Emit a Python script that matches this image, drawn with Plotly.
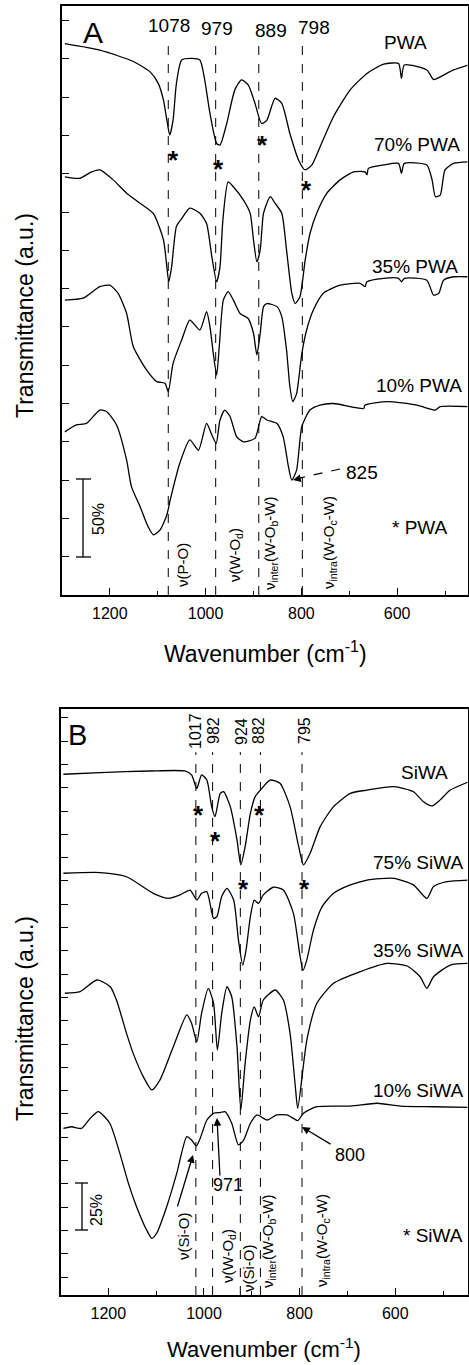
import plotly.graph_objects as go

W, H = 469, 1365
def px(x): return x / W
def py(y): return 1 - y / H

FONT = "Liberation Sans, Arial, sans-serif"

# ---------------- Panel A data (wavenumber, offset transmittance a.u.) -------------
wn_pwa = [1294,1221,1151,1116,1099,1088,1081,1075,1068,1061,1050,1029,1012,1003,991,977,970,956,939,925,
          911,897,883,872,855,841,824,806,792,778,761,733,698,663,628,597,591,585,538,524,510,482,451]
t_pwa = [14.40,14.23,13.93,13.66,13.36,12.92,12.4,12.01,12.4,13.36,13.97,14.01,13.97,13.53,12.58,11.79,11.75,12.31,13.19,13.45,
         13.32,12.84,12.31,12.4,12.97,12.84,12.05,11.36,11.1,11.23,11.70,12.49,13.19,13.62,13.86,13.88,13.49,13.84,13.71,13.46,13.53,13.71,13.84]

wn_pwa70 = [1294,1263,1238,1221,1193,1165,1137,1109,1088,1081,1077,1071,1061,1050,1033,1012,998,987,977,970,
            964,953,942,921,907,900,893,886,879,865,855,841,831,820,813,803,792,782,768,747,
            719,691,667,663,660,628,597,591,585,538,527,520,510,500,482,451]
t_pwa70 = [10.92,10.88,11.05,11.10,10.84,10.49,10.23,9.96,9.27,8.57,8.18,8.57,9.62,9.83,10.10,9.97,9.70,8.83,8.18,8.57,
           9.79,10.79,10.66,10.31,9.97,9.27,8.70,9.01,9.97,10.40,10.23,9.97,9.01,7.88,7.61,7.79,8.75,9.44,9.97,10.49,
           10.84,11.05,11.05,10.97,11.14,11.23,11.27,11.01,11.27,11.23,10.84,10.40,10.44,11.10,11.27,11.31]

wn_pwa35 = [1294,1256,1221,1200,1183,1165,1151,1123,1102,1085,1078,1068,1050,1033,1012,998,991,984,977,971,
            963,953,942,928,911,900,893,886,879,872,851,841,831,824,818,810,799,789,775,754,
            719,677,667,663,628,597,591,585,538,524,513,503,482,451]
t_pwa35 = [7.70,7.75,8.05,8.09,7.88,7.35,6.48,5.87,5.57,5.53,5.31,6.05,6.66,7.18,6.92,7.40,7.01,6.31,5.74,6.57,
           7.70,7.92,7.70,7.35,7.22,6.83,6.27,6.83,7.53,7.61,7.53,7.27,6.40,5.44,5.05,5.26,6.31,6.92,7.44,7.88,
           8.09,8.14,8.05,8.18,8.27,8.27,8.18,8.27,8.22,7.83,7.88,8.22,8.31,8.31]

wn_pwa10 = [1294,1270,1249,1221,1207,1186,1165,1155,1137,1120,1109,1095,1081,1074,1054,1033,1015,998,987,978,
            970,960,949,935,921,897,883,872,851,838,827,820,810,799,782,761,733,670,667,621,559,520,510,451]
t_pwa10 = [4.26,4.44,4.48,4.83,4.79,4.44,3.52,2.83,2.31,1.78,1.57,1.70,2.09,2.48,3.44,4.05,3.78,4.48,4.18,3.96,
           4.57,4.83,4.66,4.13,4.00,4.09,4.66,4.57,4.48,4.13,3.35,3.00,3.26,4.40,4.83,4.96,5.00,4.87,4.96,5.05,4.96,4.83,4.92,4.92]

peaks_a = [1078, 979, 889, 798]
peak_labels_a = ["1078", "979", "889", "798"]
star_a_wn = [1068, 973, 881, 789]
star_a_t = [11.54, 11.31, 11.93, 10.76]

# ---------------- Panel B data ----------------
wn_siwa = [1294,1217,1113,1040,1026,1015,1005,994,984,977,966,959,945,931,923,914,903,893,882,862,
           841,820,802,792,778,757,729,694,659,603,562,541,523,506,485,446]
t_siwa = [22.35,22.42,22.49,22.49,22.32,21.74,22.32,22.10,20.96,20.53,21.53,21.60,20.96,19.53,18.46,19.24,20.67,21.39,21.67,22.10,
          21.96,20.96,19.24,18.46,18.96,20.10,20.96,21.53,21.67,21.82,21.60,21.17,20.99,21.25,21.67,22.03]

wn_siwa75 = [1294,1217,1162,1106,1074,1050,1029,1015,1005,994,980,973,963,952,938,928,919,912,903,895,
             886,876,855,834,813,800,793,785,771,753,729,694,659,603,562,534,520,492,446]
t_siwa75 = [18.10,18.13,17.95,17.24,17.02,17.17,17.38,16.95,17.24,17.31,16.16,16.24,17.10,17.45,16.95,15.24,14.16,14.81,16.24,16.95,
            16.81,17.17,17.50,17.38,16.38,14.66,13.92,14.38,15.67,16.67,17.24,17.60,17.81,17.88,17.60,17.02,17.53,17.74,17.81]

wn_siwa35 = [1291,1259,1224,1196,1183,1162,1148,1127,1109,1092,1064,1036,1026,1015,1005,991,980,972,963,952,
             942,931,923,914,903,895,886,876,851,834,820,809,804,785,764,729,673,617,575,548,534,520,485,446]
t_siwa35 = [12.95,13.02,13.52,13.23,12.66,11.23,10.37,9.37,8.80,9.23,10.66,12.02,11.66,10.87,12.09,13.16,12.52,10.51,12.09,13.23,
            12.80,10.66,7.94,9.94,11.80,12.37,11.94,12.66,13.09,12.66,11.23,8.94,8.01,10.94,12.52,13.38,13.88,14.23,14.12,13.66,
            13.16,13.66,14.16,14.23]

wn_siwa10 = [1294,1277,1256,1238,1221,1197,1176,1158,1141,1120,1109,1099,1078,1057,1036,1026,1016,1008,994,980,
             966,956,942,928,917,903,889,868,848,827,813,804,792,764,694,638,589,520,446]
t_siwa10 = [7.15,7.22,7.15,7.58,7.87,7.37,6.08,4.79,3.79,2.79,2.43,2.65,3.79,5.22,6.80,6.65,6.40,6.72,7.51,7.80,
            7.83,7.87,7.37,6.44,6.65,7.37,7.73,7.51,7.73,7.73,7.58,7.48,7.80,8.08,8.11,8.23,8.11,8.08,8.05]

peaks_b = [1017, 982, 924, 882, 795]
peak_labels_b = ["1017", "982", "924", "882", "795"]
star_b_wn = [1012, 975, 883, 917, 790]
star_b_t = [20.90, 19.79, 20.90, 17.73, 17.73]

# ---------------- Figure ----------------
fig = go.Figure()
line = dict(color="black", width=1.3, shape="spline", smoothing=0.6)
for wn, t in [(wn_pwa, t_pwa), (wn_pwa70, t_pwa70), (wn_pwa35, t_pwa35), (wn_pwa10, t_pwa10)]:
    fig.add_trace(go.Scatter(x=wn, y=t, mode="lines", line=line, xaxis="x", yaxis="y",
                             showlegend=False, hoverinfo="skip"))
for wn, t in [(wn_siwa, t_siwa), (wn_siwa75, t_siwa75), (wn_siwa35, t_siwa35), (wn_siwa10, t_siwa10)]:
    fig.add_trace(go.Scatter(x=wn, y=t, mode="lines", line=line, xaxis="x2", yaxis="y2",
                             showlegend=False, hoverinfo="skip"))

shapes = []
for p in peaks_a:
    shapes.append(dict(type="line", xref="x", yref="y", x0=p, x1=p, y0=0, y1=14.5,
                       line=dict(color="black", width=1, dash="dash")))
for p in peaks_b:
    shapes.append(dict(type="line", xref="x2", yref="y2", x0=p, x1=p, y0=0, y1=23.3,
                       line=dict(color="black", width=1, dash="dash")))

def pline(x0, y0, x1, y1, dash="solid", w=1.3):
    return dict(type="line", xref="paper", yref="paper", x0=px(x0), y0=py(y0), x1=px(x1), y1=py(y1),
                line=dict(color="black", width=w, dash=dash))

# scale bars
shapes += [pline(83, 479, 83, 557), pline(76, 479, 91, 479), pline(76, 557, 91, 557)]
shapes += [pline(82, 1183, 82, 1230), pline(75, 1183, 88, 1183), pline(75, 1230, 88, 1230)]
# dashed leader for 825
shapes.append(pline(340, 469, 300, 478, dash="dash", w=1.2))

ann = []
def T(text, x, y, size, angle=0, xanchor="center", yanchor="middle"):
    ann.append(dict(text=text, x=px(x), y=py(y), xref="paper", yref="paper", showarrow=False,
                    textangle=angle, xanchor=xanchor, yanchor=yanchor,
                    font=dict(family=FONT, size=size, color="black")))

# Panel A texts
T("A", 93, 32, 30)
for lbl, (x, y) in zip(peak_labels_a, [(169, 25), (217, 28), (271, 30), (314, 27)]):
    T(lbl, x, y, 19)
T("PWA", 405, 42, 19)
T("70% PWA", 417, 145, 19)
T("35% PWA", 415, 267, 19)
T("10% PWA", 419, 385, 19)
T("* PWA", 420, 528, 19)
T("825", 362, 472, 19)
T("ν(P-O)", 182, 565, 15, -90)
T("ν(W-O<sub>d</sub>)", 235, 555, 15, -90)
T("ν<sub>inter</sub>(W-O<sub>b</sub>-W)", 270, 544, 15, -90)
T("ν<sub>intra</sub>(W-O<sub>c</sub>-W)", 330, 543, 15, -90)
T("50%", 98, 519, 16, -90)
T("Wavenumber (cm<sup>-1</sup>)", 265, 652, 23)
T("Transmittance (a.u.)", 25, 316, 23, -90)

# Panel B texts
T("B", 77, 735, 29)
for lbl, x in zip(peak_labels_b, [195, 213, 241, 258, 304]):
    T(lbl, x, 731, 16, -90)
T("SiWA", 424, 772, 19)
T("75% SiWA", 465, 862, 19, xanchor="right")
T("35% SiWA", 465, 950, 19, xanchor="right")
T("10% SiWA", 465, 1090, 19, xanchor="right")
T("* SiWA", 465, 1235, 19, xanchor="right")
T("971", 228, 1185, 18)
T("800", 350, 1155, 18)
T("ν(Si-O)", 183, 1236, 15, -90)
T("ν(W-O<sub>d</sub>)", 228, 1256, 15, -90)
T("ν(Si-O)", 248, 1268, 15, -90)
T("ν<sub>inter</sub>(W-O<sub>b</sub>-W)", 268, 1242, 15, -90)
T("ν<sub>intra</sub>(W-O<sub>c</sub>-W)", 322, 1241, 15, -90)
T("25%", 96, 1210, 16, -90)
T("Wavenumber (cm<sup>-1</sup>)", 264, 1348, 22)
T("Transmittance (a.u.)", 25, 1019, 23, -90)

# asterisks on data
for w, t in zip(star_a_wn, star_a_t):
    ann.append(dict(text="<b>*</b>", x=w, y=t, xref="x", yref="y", showarrow=False, yshift=-7,
                    font=dict(family=FONT, size=26, color="black")))
for w, t in zip(star_b_wn, star_b_t):
    ann.append(dict(text="<b>*</b>", x=w, y=t, xref="x2", yref="y2", showarrow=False, yshift=-7,
                    font=dict(family=FONT, size=26, color="black")))

def arrow(hx, hy, tx, ty):
    ann.append(dict(text="", x=px(hx), y=py(hy), xref="paper", yref="paper", showarrow=True,
                    ax=tx - hx, ay=ty - hy, axref="pixel", ayref="pixel",
                    arrowhead=2, arrowsize=1.2, arrowwidth=1.3, arrowcolor="black", standoff=0))

arrow(293, 480, 302, 478)
arrow(217, 1118, 220, 1177)
arrow(302, 1127, 332, 1145)
arrow(193, 1155, 177, 1208)

xcommon = dict(autorange=False, showgrid=False, zeroline=False, showline=True, linecolor="black",
               linewidth=1.8, mirror=True, ticks="inside", ticklen=7, tickwidth=1.3, tickcolor="black",
               tick0=0, dtick=200, tickfont=dict(family=FONT, size=16, color="black"),
               minor=dict(dtick=100, ticks="inside", ticklen=4, tickwidth=1.2, tickcolor="black"),
               ticklabelstandoff=3)
ycommon = dict(autorange=False, showgrid=False, zeroline=False, showline=True, linecolor="black",
               linewidth=1.8, mirror=True, ticks="inside", ticklen=7, tickwidth=1.3, tickcolor="black",
               showticklabels=False, dtick=1)

fig.update_layout(
    width=W, height=H, margin=dict(l=0, r=0, t=0, b=0),
    paper_bgcolor="white", plot_bgcolor="white", showlegend=False,
    xaxis=dict(domain=[px(62), px(467.5)], anchor="y", range=[1300, 453], **xcommon),
    yaxis=dict(domain=[py(595), py(6)], anchor="x", range=[0, 15.38], tick0=0, **ycommon),
    xaxis2=dict(domain=[px(61), px(467.5)], anchor="y2", range=[1299, 449], **xcommon),
    yaxis2=dict(domain=[py(1295), py(709)], anchor="x2", range=[0, 25.15], tick0=0.77, **ycommon),
    shapes=shapes, annotations=ann,
)

fig.write_html("out.html", config={"displayModeBar": False},
               post_script="document.body.style.margin='0';document.body.style.overflow='hidden';")
